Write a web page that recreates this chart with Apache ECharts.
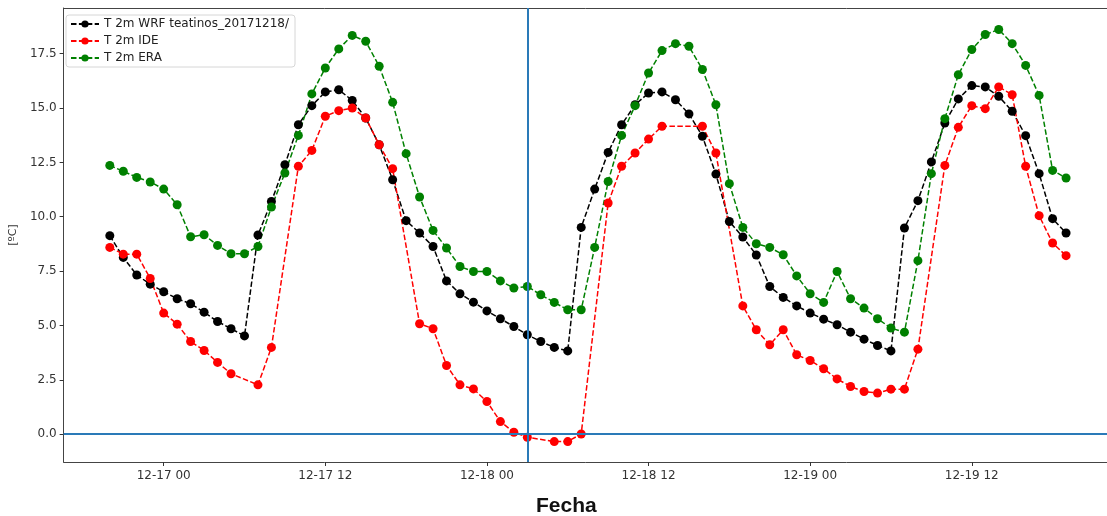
<!DOCTYPE html>
<html>
<head>
<meta charset="utf-8">
<script src="https://cdn.jsdelivr.net/npm/echarts@6/dist/echarts.min.js"></script>
<style>
    html, body { margin: 0; padding: 0; background: #fff; }
    #chart { width: 1107px; height: 516px; }
</style>
</head>
<body>
<div id="chart"></div>
<script>
    var firstHour = -4;   // 12-16 20:00, hours counted from 12-17 00:00
    var wrf = [9.13, 8.13, 7.32, 6.90, 6.55, 6.23, 6.00, 5.61, 5.18, 4.85, 4.52, 9.16,
        10.70, 12.39, 14.23, 15.11, 15.74, 15.84, 15.35, 14.54, 13.31, 11.70, 9.82, 9.25,
        8.63, 7.05, 6.46, 6.07, 5.67, 5.31, 4.95, 4.57, 4.26, 3.99, 3.83, 9.51,
        11.27, 12.96, 14.23, 15.15, 15.69, 15.74, 15.38, 14.73, 13.70, 11.96, 9.78, 9.07,
        8.24, 6.79, 6.29, 5.90, 5.57, 5.29, 5.03, 4.69, 4.37, 4.08, 3.83, 9.48,
        10.74, 12.52, 14.31, 15.42, 16.03, 15.97, 15.54, 14.85, 13.73, 11.98, 9.91, 9.25];
    var ide = [8.59, 8.28, 8.28, 7.16, 5.57, 5.06, 4.26, 3.85, 3.30, 2.78, null, 2.27,
        3.99, null, 12.32, 13.05, 14.62, 14.88, 15.00, 14.54, 13.31, 12.21, null, 5.08,
        4.85, 3.16, 2.27, 2.08, 1.50, 0.58, 0.09, -0.14, null, -0.34, -0.34, 0.01,
        null, 10.63, 12.32, 12.93, 13.57, 14.16, null, null, 14.16, 12.93, null, 5.90,
        4.80, 4.11, 4.80, 3.65, 3.39, 3.01, 2.54, 2.19, 1.96, 1.89, 2.07, 2.07,
        3.91, null, 12.36, 14.11, 15.11, 14.97, 15.97, 15.61, 12.32, 10.05, 8.79, 8.21];
    var era = [12.36, 12.09, 11.81, 11.60, 11.27, 10.55, 9.08, 9.17, 8.68, 8.30, 8.30, 8.63,
        10.45, 12.01, 13.74, 15.65, 16.84, 17.72, 18.34, 18.07, 16.92, 15.26, 12.90, 10.91,
        9.37, 8.56, 7.71, 7.48, 7.48, 7.05, 6.72, 6.79, 6.41, 6.06, 5.72, 5.72,
        8.59, 11.62, 13.74, 15.11, 16.61, 17.64, 17.96, 17.84, 16.77, 15.15, 11.52, 9.51,
        8.76, 8.59, 8.25, 7.28, 6.46, 6.06, 7.48, 6.23, 5.80, 5.31, 4.88, 4.69,
        7.98, 11.98, 14.51, 16.53, 17.69, 18.38, 18.61, 17.96, 16.96, 15.58, 12.13, 11.78];
    var xTicks = [0, 12, 24, 36, 48, 60];
    var yTicks = [0, 2.5, 5, 7.5, 10, 12.5, 15, 17.5];
    var names = ['T 2m WRF teatinos_20171218/', 'T 2m IDE', 'T 2m ERA'];
    var colors = ['#000000', '#ff0000', '#008000'];
    var markHour = 27;   // 12-18 03

    function pairs(arr) {
        var out = [];
        for (var i = 0; i < arr.length; i++) {
            if (arr[i] !== null) out.push([firstHour + i, arr[i]]);
        }
        return out;
    }
    function hourLabel(h) {
        var day = 17 + Math.floor(h / 24);
        var hh = h % 24;
        return '12-' + day + ' ' + (hh < 10 ? '0' + hh : hh);
    }

    var allData = [wrf, ide, era];
    var series = [];
    for (var s = 0; s < 3; s++) {
        series.push({
            name: names[s],
            type: 'line',
            data: pairs(allData[s]),
            symbol: 'circle',
            symbolSize: 9,
            color: colors[s],
            itemStyle: { color: colors[s] },
            lineStyle: { color: colors[s], width: 1.5, type: [5.5, 2.4] },
            animation: false,
            z: 3
        });
    }
    series.push({
        type: 'line',
        data: [],
        silent: true,
        z: 2,
        markLine: {
            silent: true,
            symbol: ['none', 'none'],
            label: { show: false },
            animation: false,
            lineStyle: { color: '#2a7ab8', width: 2, type: 'solid' },
            data: [{ xAxis: markHour }, { yAxis: 0 }]
        }
    });

    var xMin = -7.43, xMax = 70.04;
    var myChart = echarts.init(document.getElementById('chart'));
    var option = {
        animation: false,
        backgroundColor: '#ffffff',
        title: {
            text: 'Fecha',
            left: 531,
            top: 491,
            textStyle: { fontFamily: 'Liberation Sans', fontWeight: 'bold', fontSize: 21, color: '#111' }
        },
        legend: {
            data: names,
            orient: 'vertical',
            left: 66,
            top: 15,
            itemWidth: 28,
            itemHeight: 9,
            itemGap: 5,
            padding: [3, 6, 3, 4],
            backgroundColor: '#ffffff',
            borderColor: '#d6d6d6',
            borderWidth: 1,
            borderRadius: 3,
            textStyle: { fontFamily: 'DejaVu Sans', fontSize: 12, color: '#222' }
        },
        grid: {
            left: 62,
            right: 0,
            top: 8,
            bottom: 54,
            containLabel: false
        },
        xAxis: [{
            type: 'value',
            min: xMin,
            max: xMax,
            splitLine: { show: false },
            axisLine: { show: true, onZero: false, lineStyle: { color: '#444', width: 1 } },
            axisTick: { show: true, length: 4, lineStyle: { color: '#333' }, customValues: xTicks },
            axisLabel: {
                customValues: xTicks,
                margin: 8,
                fontFamily: 'DejaVu Sans',
                fontSize: 12,
                color: '#333',
                formatter: function (v) { return hourLabel(v); }
            }
        }, {
            // top frame line only
            type: 'value',
            position: 'top',
            min: xMin,
            max: xMax,
            splitLine: { show: false },
            axisLine: { show: true, onZero: false, lineStyle: { color: '#444', width: 1 } },
            axisTick: { show: false },
            axisLabel: { show: false }
        }],
        yAxis: {
            type: 'value',
            min: -1.28,
            max: 19.6,
            name: '[ºC]',
            nameLocation: 'middle',
            nameRotate: 90,
            nameGap: 42,
            nameTextStyle: { fontFamily: 'DejaVu Sans', fontSize: 11, color: '#333' },
            splitLine: { show: false },
            axisLine: { show: true, onZero: false, lineStyle: { color: '#444', width: 1 } },
            axisTick: { show: true, length: 4, lineStyle: { color: '#333' }, customValues: yTicks },
            axisLabel: {
                customValues: yTicks,
                margin: 7,
                fontFamily: 'DejaVu Sans',
                fontSize: 12,
                color: '#333',
                formatter: function (v) { return v.toFixed(1); }
            }
        },
        series: series
    };
    myChart.setOption(option);
</script>
</body>
</html>
